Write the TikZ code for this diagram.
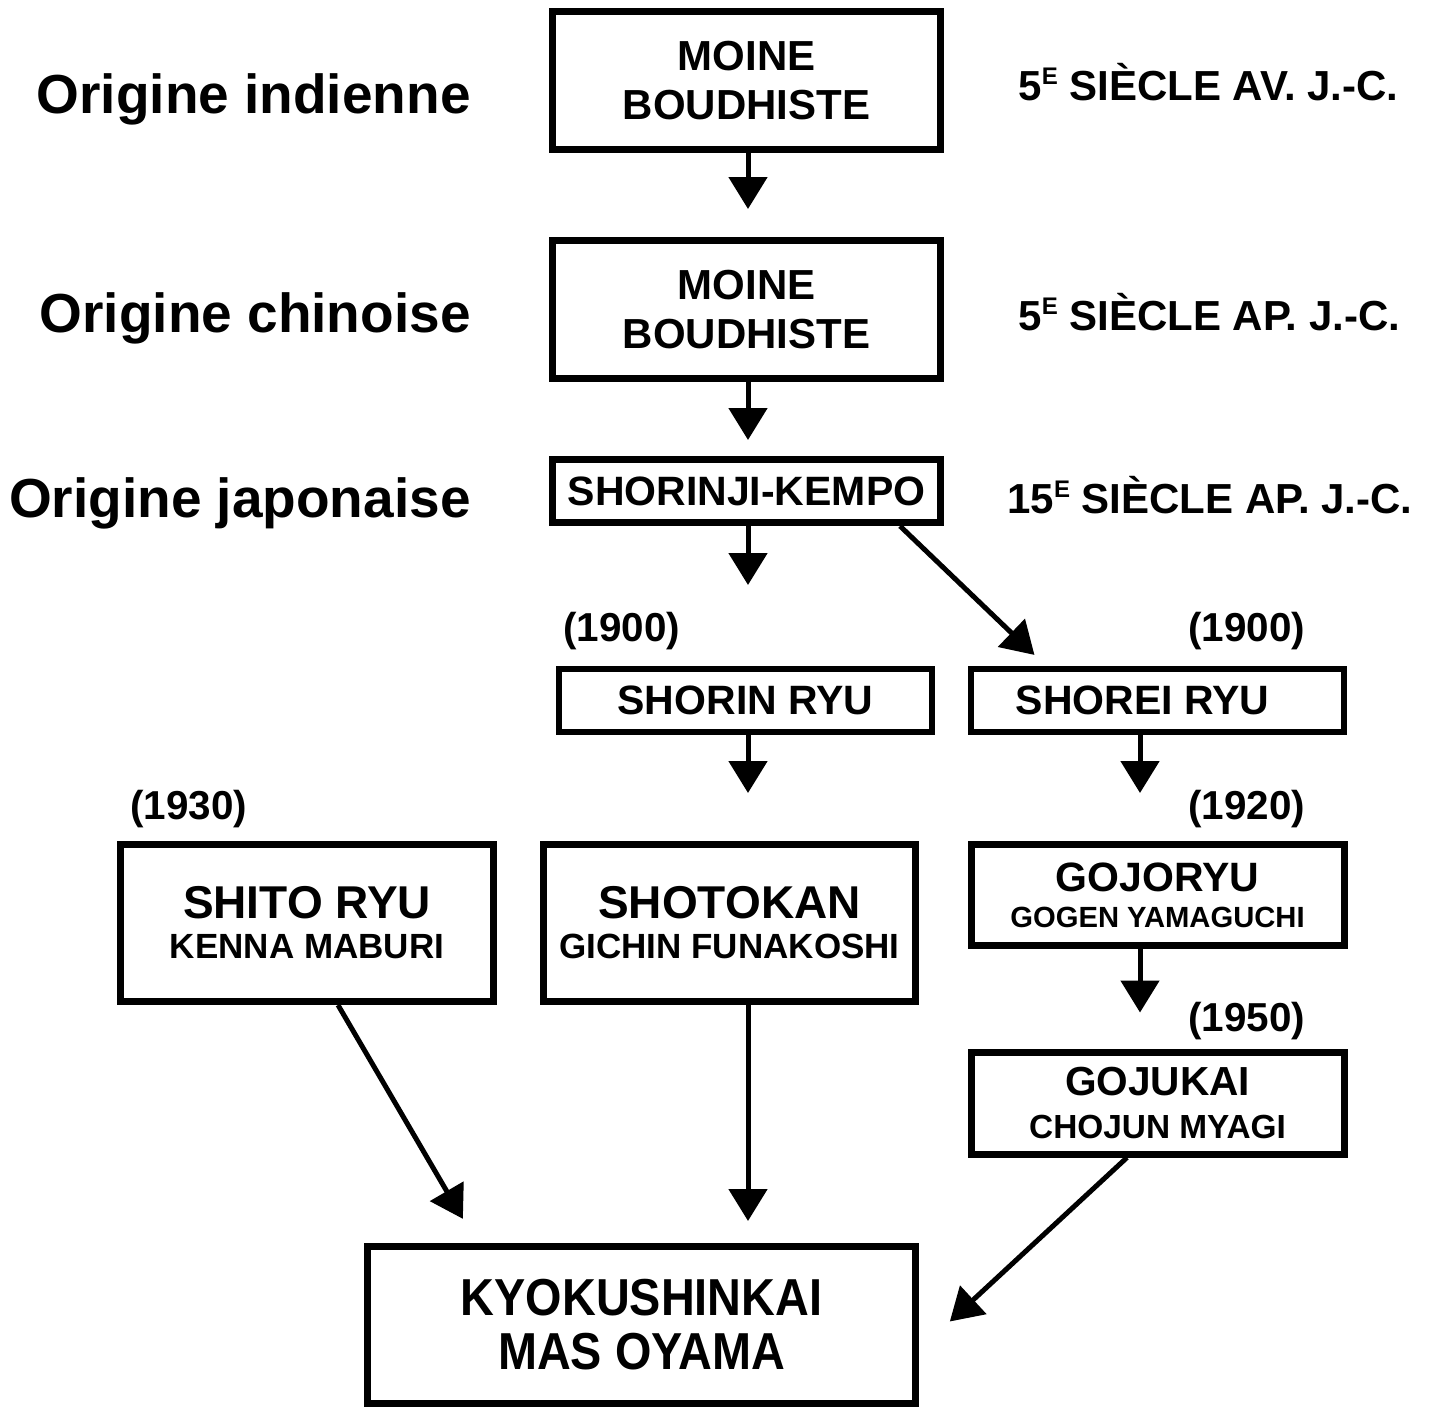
\documentclass[tikz,border=0pt]{standalone}
\usepackage{fontspec}
\setmainfont{Liberation Sans}
\usetikzlibrary{arrows.meta, positioning}
\newcommand{\esup}{\raisebox{0.38em}{\fontsize{12}{12}\selectfont E}}
\tikzset{
    box/.style={rectangle, draw=black, line width=3.5pt, text centered, align=center, inner sep=0pt, font=\bfseries},
    origine/.style={anchor=base east, inner sep=0pt, font=\fontsize{27.5}{30}\selectfont\bfseries},
    siecle/.style={anchor=base west, inner sep=0pt, font=\fontsize{21}{22}\selectfont\bfseries},
    annee/.style={anchor=base west, inner sep=0pt, font=\fontsize{20.2}{22}\selectfont\bfseries},
    arrow/.style={line width=2.5pt, -{Triangle[length=16pt,width=19pt]}}
}
\begin{document}
\begin{tikzpicture}[x=0.5pt, y=-0.5pt]
    \useasboundingbox (0,0) rectangle (1429,1409);

    % origines
    \node (inde) [origine] at (471,113) {Origine indienne};
    \node (chine) [origine] at (471,332) {Origine chinoise};
    \node (japon) [origine] at (471,517) {Origine japonaise};

    \node (av5) [siecle] at (1018,100) {5\esup{} SIÈCLE AV. J.-C.};
    \node (ap5) [siecle] at (1018,330) {5\esup{} SIÈCLE AP. J.-C.};
    \node (ap15) [siecle] at (1007,513) {15\esup{} SIÈCLE AP. J.-C.};

    % boites
    \node (moineinde) [box, minimum width=194pt, minimum height=69pt, font=\fontsize{21}{24.5}\selectfont\bfseries] at (746.5,80.5) {MOINE\\BOUDHISTE};
    \node (moinechine) [box, minimum width=194pt, minimum height=69pt, font=\fontsize{21}{24.5}\selectfont\bfseries] at (746.5,309.5) {MOINE\\BOUDHISTE};
    \node (kempo) [box, minimum width=194pt, minimum height=31.5pt, font=\fontsize{20.5}{22}\selectfont\bfseries] at (746.5,491) {SHORINJI-KEMPO};
    \node (shorin) [box, line width=3pt, minimum width=186.5pt, minimum height=31.5pt, font=\fontsize{20.5}{22}\selectfont\bfseries] at (745.5,700.5) {SHORIN RYU};
    \node (shorei) [box, line width=3pt, minimum width=186.5pt, minimum height=31.5pt, font=\fontsize{20.5}{22}\selectfont\bfseries] at (1157.5,700.5) {SHOREI RYU\hspace*{15pt}};
    \node (shito) [box, minimum width=186.5pt, minimum height=78.5pt, font=\fontsize{23}{20}\selectfont\bfseries] at (307,923) {SHITO RYU\\{\fontsize{17.5}{20}\selectfont KENNA MABURI}};
    \node (shotokan) [box, minimum width=186pt, minimum height=78.5pt, font=\fontsize{23}{20}\selectfont\bfseries] at (729.5,923) {SHOTOKAN\\{\fontsize{17.5}{20}\selectfont GICHIN FUNAKOSHI}};
    \node (gojoryu) [box, minimum width=186.5pt, minimum height=50.5pt, font=\fontsize{20.5}{18}\selectfont\bfseries] at (1157.5,895) {GOJORYU\\{\fontsize{14.6}{18}\selectfont GOGEN YAMAGUCHI}};
    \node (gojukai) [box, minimum width=186.5pt, minimum height=51pt, font=\fontsize{20.3}{21.5}\selectfont\bfseries] at (1157.5,1103) {GOJUKAI\\{\fontsize{16.7}{21.5}\selectfont CHOJUN MYAGI}};
    \node (kyoku) [box, minimum width=274pt, minimum height=78.5pt, font=\fontsize{26}{27}\selectfont\bfseries] at (641.5,1325) {\scalebox{0.9}[1]{KYOKUSHINKAI}\\\scalebox{0.9}[1]{MAS OYAMA}};

    % annees
    \node (a1900g) [annee] at (563,641) {(1900)};
    \node (a1900d) [annee] at (1188,641) {(1900)};
    \node (a1930) [annee] at (130,819) {(1930)};
    \node (a1920) [annee] at (1188,819) {(1920)};
    \node (a1950) [annee] at (1188,1031) {(1950)};

    % fleches
    \draw [arrow, shorten >=14pt] ([xshift=0.75pt]moineinde.south) -- ([xshift=0.75pt]moinechine.north);
    \draw [arrow, shorten >=8pt] ([xshift=0.75pt]moinechine.south) -- ([xshift=0.75pt]kempo.north);
    \draw [arrow, shorten >=40.5pt] ([xshift=0.75pt]kempo.south) -- ([xshift=1.25pt]shorin.north);
    \draw [arrow, shorten >=8pt] ([xshift=-22pt]kempo.south east) -- ([xshift=39pt]shorei.north west);
    \draw [arrow, shorten >=24pt] ([xshift=1.25pt]shorin.south) -- ([xshift=1.25pt]shorin.south |- shotokan.north);
    \draw [arrow, shorten >=24pt] ([xshift=-8.75pt]shorei.south) -- ([xshift=-8.75pt]shorei.south |- gojoryu.north);
    \draw [arrow, shorten >=18pt] ([xshift=-8.75pt]gojoryu.south) -- ([xshift=-8.75pt]gojukai.north);
    \draw [arrow, shorten >=14pt] ([xshift=15.5pt]shito.south) -- ([xshift=56.5pt]kyoku.north west);
    \draw [arrow, shorten >=11pt] ([xshift=9.25pt]shotokan.south) -- ([xshift=9.25pt]shotokan.south |- kyoku.north);
    \draw [arrow, shorten >=21pt] ([xshift=-15.25pt]gojukai.south) -- ([yshift=-12.5pt]kyoku.east);
\end{tikzpicture}
\end{document}
